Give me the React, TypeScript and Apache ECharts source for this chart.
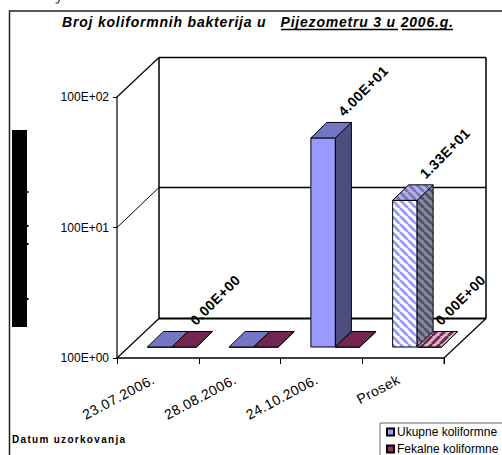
import React, { useEffect, useRef } from "react";
import * as echarts from "echarts";

const categories = ["23.07.2006.", "28.08.2006.", "24.10.2006.", "Prosek"];
const seriesNames = ["Ukupne koliformne", "Fekalne koliformne"];
const ukupne = [0, 0, 40, 13.3];
const fekalne = [0, 0, 0, 0];
const ukupneLabelled = [false, false, true, true];
const fekalneLabelled = [true, false, false, true];
const yTickLabels = ["100E+00", "100E+01", "100E+02"];
const hatchedCategory = "Prosek";

const FONT = "Liberation Sans";
const GRID = { left: 117, top: 97, width: 327, height: 261 };
const WALL = { dx: 42, dy: -39.5 };

// Reference text is set with loose tracking; ECharts has no letter-spacing option.
const TRACKING = `
text[style*="14px"] { letter-spacing: 0.5px; }
text[style*="italic"] { letter-spacing: 0.8px; }
text[style*="10px"] { letter-spacing: 1.3px; }
`;

function stripes(a: string, b: string, dir: number) {
  const c = document.createElement("canvas");
  c.width = 8;
  c.height = 8;
  const g = c.getContext("2d")!;
  g.fillStyle = a;
  g.fillRect(0, 0, 8, 8);
  g.strokeStyle = b;
  g.lineWidth = 2.8;
  for (let i = -16; i <= 16; i += 8) {
    g.beginPath();
    if (dir > 0) {
      g.moveTo(i, 0);
      g.lineTo(i + 8, 8);
    } else {
      g.moveTo(i + 8, 0);
      g.lineTo(i, 8);
    }
    g.stroke();
  }
  return { image: c, repeat: "repeat" };
}

function expLabel(v: number) {
  return v.toExponential(2).toUpperCase().replace(/E([+-])(\d)$/, "E$10$2");
}

function makeSeries(name: string, values: number[], labelled: boolean[], idx: number, pal: any, hatch: any) {
  return {
    type: "custom",
    name,
    z: 5,
    itemStyle: { color: pal.legend, borderColor: "#000", borderWidth: 1 },
    data: values.map((v, i) => [i, v, labelled[i] ? 1 : 0]),
    encode: { x: 0, y: 1 },
    clip: false,
    renderItem: (_p: any, api: any) => {
      const i = api.value(0);
      const v = api.value(1);
      const isHatched = categories[i] === hatchedCategory;
      const top = api.coord([i, Math.max(v, 1)]);
      const base = api.coord([i, 1]);
      const w = 24.5;
      const x0 = top[0] - 10.5 + idx * w;
      const x1 = x0 + w;
      const y0 = top[1] - 11;
      const y1 = base[1] - 11;
      const dx = 16;
      const dy = -15.5;
      const stroke = { stroke: "#000", lineWidth: 1 };
      const children: any[] = [
        { type: "polygon", shape: { points: [[x0, y0], [x1, y0], [x1, y1], [x0, y1]] }, style: { fill: isHatched ? hatch.front : pal.front, ...stroke } },
        { type: "polygon", shape: { points: [[x1, y0], [x1 + dx, y0 + dy], [x1 + dx, y1 + dy], [x1, y1]] }, style: { fill: isHatched ? hatch.side : pal.side, ...stroke } },
        { type: "polygon", shape: { points: [[x0, y0], [x1, y0], [x1 + dx, y0 + dy], [x0 + dx, y0 + dy]] }, style: { fill: isHatched ? hatch.top : pal.top, ...stroke } },
      ];
      if (api.value(2)) {
        const ox = idx === 0 ? 40 : 31;
        children.push({
          type: "text",
          x: (x0 + x1) / 2 + ox,
          y: y0 - 47,
          rotation: Math.PI / 4,
          style: { text: expLabel(v), font: `bold 14px "${FONT}"`, fill: "#000", align: "center", verticalAlign: "middle" },
        });
      }
      return { type: "group", children };
    },
  };
}

function line(x1: number, y1: number, x2: number, y2: number, lw = 1.5, c = "#000") {
  return { type: "line", z: 1, shape: { x1, y1, x2, y2 }, style: { stroke: c, lineWidth: lw } };
}

function rect(x: number, y: number, width: number, height: number, fill = "#000") {
  return { type: "rect", z: 1, shape: { x, y, width, height }, style: { fill } };
}

export default function App() {
  const ref = useRef<HTMLDivElement>(null);
  useEffect(() => {
    document.body.style.margin = "0";
    document.body.style.overflow = "hidden";
    const chart = echarts.init(ref.current!, undefined, { renderer: "svg" });
    const { left: L, top: T, width: W, height: H } = GRID;
    const B = T + H;
    const R = L + W;
    const bx = L + WALL.dx;
    const by = T + WALL.dy;
    const bb = B + WALL.dy;
    const br = R + WALL.dx;
    const mid = T + H / 2;
    const option: any = {
      animation: false,
      backgroundColor: "#fff",
      title: {
        text: "Broj koliformnih bakterija u   Pijezometru 3 u 2006.g.",
        left: 62,
        top: 15,
        padding: 0,
        textStyle: { fontFamily: FONT, fontSize: 14, fontWeight: "bold", fontStyle: "italic", color: "#000" },
      },
      legend: {
        orient: "vertical",
        left: 380,
        top: 423,
        width: 180,
        padding: [3, 30, 3, 6],
        itemGap: 5,
        itemWidth: 7,
        itemHeight: 7,
        icon: "rect",
        borderColor: "#666",
        borderWidth: 1,
        backgroundColor: "#fff",
        textStyle: { fontFamily: FONT, fontSize: 12, color: "#000", padding: [0, 0, 0, -2] },
      },
      grid: { left: L, top: T, width: W, height: H },
      xAxis: {
        type: "category",
        data: categories,
        boundaryGap: true,
        axisLine: { lineStyle: { color: "#000", width: 1.5 } },
        axisTick: { show: true, length: 6, lineStyle: { color: "#000" } },
        axisLabel: { interval: 0, rotate: 28, margin: 18, padding: [0, 5, 0, 0], fontFamily: FONT, fontSize: 14, color: "#000" },
      },
      yAxis: {
        type: "log",
        logBase: 10,
        min: 1,
        max: 100,
        axisLine: { show: true, lineStyle: { color: "#333", width: 1.5 } },
        axisTick: { show: true, length: 4, lineStyle: { color: "#000" } },
        minorTick: { show: false },
        splitLine: { show: false },
        axisLabel: {
          margin: 8,
          fontFamily: FONT,
          fontSize: 12,
          color: "#000",
          formatter: (v: number) => yTickLabels[Math.round(Math.log10(v))],
        },
      },
      series: [
        makeSeries(seriesNames[0], ukupne, ukupneLabelled, 0,
          { legend: "#9999FF", front: "#9999FF", side: "#4D4D80", top: "#7575C5" },
          { front: stripes("#FFFFFF", "#9999FF", 1), side: stripes("#8C8C8C", "#4D4D80", 1), top: stripes("#B5B5D8", "#7575C5", 1) }),
        makeSeries(seriesNames[1], fekalne, fekalneLabelled, 1,
          { legend: "#993366", front: "#993366", side: "#4D1A33", top: "#72264F" },
          { front: stripes("#FFFFFF", "#993366", -1), side: stripes("#8C8C8C", "#4D1A33", -1), top: stripes("#D5B5C5", "#72264F", -1) }),
      ],
      graphic: [
        { type: "rect", z: 0, shape: { x: 9.5, y: 11, width: 600, height: 600 }, style: { fill: "none", stroke: "#222", lineWidth: 1.5 } },
        { type: "polyline", z: 1, shape: { points: [[59.5, 0], [58, 3], [55.5, 3]] }, style: { fill: "none", stroke: "#333", lineWidth: 1.2 } },
        line(bx, by, br, by),
        line(br, by, br, bb),
        line(bx, by, bx, bb),
        line(bx, bb, br, bb, 2),
        line(bx, mid - 40, br, mid - 40),
        line(L, T, bx, by, 1.2),
        line(L, mid, bx, mid - 40, 1),
        line(L, B, bx, bb, 1.2),
        line(R, B, br, bb, 1.2),
        line(R, B, R, B + 6, 1),
        rect(12, 130, 15, 197),
        rect(27, 191, 1.5, 2),
        rect(27, 225, 1.5, 2),
        rect(27, 243, 1.5, 2),
        rect(27, 298, 1.5, 2),
        { type: "text", z: 1, x: 12, y: 434, style: { text: "Datum uzorkovanja", font: `bold 10px "${FONT}"`, fill: "#000" } },
        line(281, 29.5, 398, 29.5, 1.5),
        line(402, 29.5, 453, 29.5, 1.5),
      ],
    };
    chart.setOption(option);
    return () => chart.dispose();
  }, []);
  return (
    <div style={{ position: "fixed", left: 0, top: 0, width: 502, height: 455, overflow: "hidden" }}>
      <style>{TRACKING}</style>
      <div ref={ref} style={{ width: 620, height: 520 }} />
    </div>
  );
}
